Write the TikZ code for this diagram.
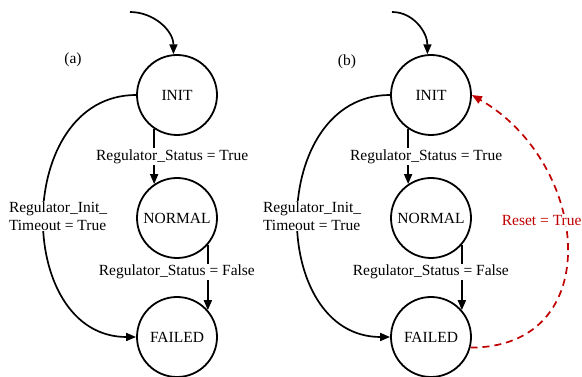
\documentclass[tikz,border=0pt]{standalone}
\usepackage{fontspec}
\setmainfont{Liberation Serif}
\usetikzlibrary{positioning,arrows.meta}
\definecolor{resetred}{RGB}{192,0,0}
\tikzset{
  stnode/.style={draw, circle, line width=1.8pt, minimum size=80pt, inner sep=0pt},
  trans/.style={line width=1.7pt, -{Triangle[length=10pt,width=8pt]}},
  lbl/.style={fill=white, inner sep=1pt},
}

\begin{document}
\begin{tikzpicture}[x=1pt, y=1pt, font=\fontsize{15.5}{18}\selectfont]
\useasboundingbox (0,0) rectangle (582,377);
\def\xa{177};
\def\xb{431};

\def \ya{282};
\def \yb{159};
\def \yc{40};

% (a)
\node(pa) at (73,317) {(a)};
\coordinate(sa) at (130,365);
\node[stnode](ia) at (\xa, \ya) {INIT};
\node[stnode](na) at (\xa, \yb) {NORMAL};
\node[stnode](fa) at (\xa, \yc) {FAILED};
\draw[trans] (sa) to [out=0, in=90] (ia.95);
\draw[trans] (ia.236) -- node[lbl, xshift=18] {Regulator\_Status = True} (na.124);
\draw[trans] (na.319) -- node[lbl, pos=0.42, xshift=-31] {Regulator\_Status = False} (fa.41);
\draw[trans] (ia.west) to [out=180, in=180, looseness=1.3]
  node[lbl, align=left, xshift=14] {Regulator\_Init\_\\Timeout = True} (fa.west);

% (b)
\node(pb) at (347,315) {(b)};
\coordinate(sb) at (392,365);
\node[stnode](ib) at (\xb, \ya) {INIT};
\node[stnode](nb) at (\xb, \yb) {NORMAL};
\node[stnode](fb) at (\xb, \yc) {FAILED};
\draw[trans] (sb) to [out=0, in=90] (ib.95);
\draw[trans] (ib.236) -- node[lbl, xshift=18] {Regulator\_Status = True} (nb.124);
\draw[trans] (nb.319) -- node[lbl, pos=0.42, xshift=-31] {Regulator\_Status = False} (fb.41);
\draw[trans] (ib.west) to [out=180, in=180, looseness=1.3]
  node[lbl, align=left, xshift=14] {Regulator\_Init\_\\Timeout = True} (fb.west);
\draw[trans, resetred, dash pattern=on 7pt off 5pt] (fb.345) to [out=0, in=-30, looseness=1.385]
  node[lbl, text=resetred, pos=0.58, xshift=-22] {Reset = True} (ib.east);
\end{tikzpicture}
\end{document}
